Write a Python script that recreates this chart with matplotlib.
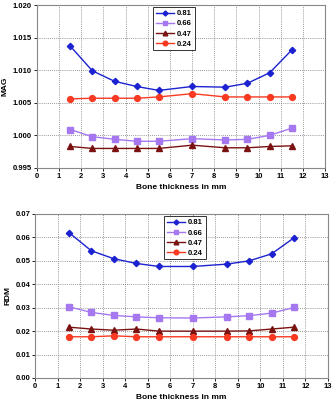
import matplotlib.pyplot as plt
from matplotlib.ticker import MultipleLocator

plt.rcParams['font.family'] = ['Liberation Sans', 'DejaVu Sans']
plt.rcParams['font.weight'] = 'bold'

# Bone thickness (mm)
thickness = [1.5, 2.5, 3.5, 4.5, 5.5, 7, 8.5, 9.5, 10.5, 11.5]
labels = ['0.81', '0.66', '0.47', '0.24']

# MAG values
mag_081 = [1.0137, 1.0099, 1.0083, 1.0075, 1.0069, 1.0075, 1.0074, 1.0080, 1.0096, 1.0131]
mag_066 = [1.0009, 0.9998, 0.9994, 0.9991, 0.9991, 0.9995, 0.9993, 0.9994, 1.0000, 1.0011]
mag_047 = [0.9983, 0.9980, 0.9980, 0.9980, 0.9980, 0.9985, 0.9981, 0.9981, 0.9983, 0.9984]
mag_024 = [1.0056, 1.0057, 1.0057, 1.0057, 1.0059, 1.0064, 1.0059, 1.0059, 1.0059, 1.0059]

# RDM values
rdm_081 = [0.0621, 0.0543, 0.0509, 0.0489, 0.0476, 0.0476, 0.0486, 0.0500, 0.0530, 0.0599]
rdm_066 = [0.0304, 0.0280, 0.0267, 0.0261, 0.0257, 0.0256, 0.0261, 0.0266, 0.0277, 0.0301]
rdm_047 = [0.0217, 0.0209, 0.0204, 0.0209, 0.0200, 0.0200, 0.0200, 0.0201, 0.0209, 0.0217]
rdm_024 = [0.0176, 0.0176, 0.0180, 0.0176, 0.0176, 0.0176, 0.0176, 0.0176, 0.0176, 0.0176]

colors = ['#1c22d0', '#a678f0', '#7a1212', '#f83a22']
markers = ['D', 's', '^', 'o']
msizes = [3.2, 4.2, 4.2, 4.2]

fig = plt.figure(figsize=(3.33, 4.05), dpi=100)
ax1 = fig.add_axes([37/333, 1 - 168/405, 288/333, 163/405])
ax2 = fig.add_axes([35/333, 1 - 378/405, 293/333, 164/405])


def style_axes(ax, ylabel, ylim, ystep, fmt):
    ax.set_xlim(0, 13)
    ax.set_ylim(*ylim)
    ax.xaxis.set_major_locator(MultipleLocator(1))
    ax.yaxis.set_major_locator(MultipleLocator(ystep))
    ax.yaxis.set_major_formatter(plt.FormatStrFormatter(fmt))
    ax.grid(True, color='#777777', linestyle=(0, (1, 1.5)), linewidth=0.6)
    ax.tick_params(labelsize=5.5, length=2, width=0.6, pad=1.5)
    ax.set_xlabel('Bone thickness in mm', fontsize=6, fontweight='bold', labelpad=3)
    ax.set_ylabel(ylabel, fontsize=6, fontweight='bold', labelpad=3)
    for s in ax.spines.values():
        s.set_color('#888888')
        s.set_linewidth(0.8)


for series, ax in [((mag_081, mag_066, mag_047, mag_024), ax1),
                   ((rdm_081, rdm_066, rdm_047, rdm_024), ax2)]:
    for vals, c, m, ms, lab in zip(series, colors, markers, msizes, labels):
        ax.plot(thickness, vals, color=c, marker=m, markersize=ms,
                linewidth=1.0, label=lab)

style_axes(ax1, 'MAG', (0.995, 1.020), 0.005, '%.3f')
style_axes(ax2, 'RDM', (0.0, 0.07), 0.01, '%.2f')

for ax, anchor in [(ax1, (0.403, 0.985)), (ax2, (0.44, 0.985))]:
    leg = ax.legend(loc='upper left', bbox_to_anchor=anchor, fontsize=5.5,
                    frameon=True, fancybox=False, handlelength=2.4,
                    borderpad=0.35, labelspacing=0.35, handletextpad=0.4,
                    borderaxespad=0, markerscale=0.8)
    leg.get_frame().set_edgecolor('black')
    leg.get_frame().set_linewidth(0.7)

fig.savefig('out.png', dpi=100, facecolor='white')
